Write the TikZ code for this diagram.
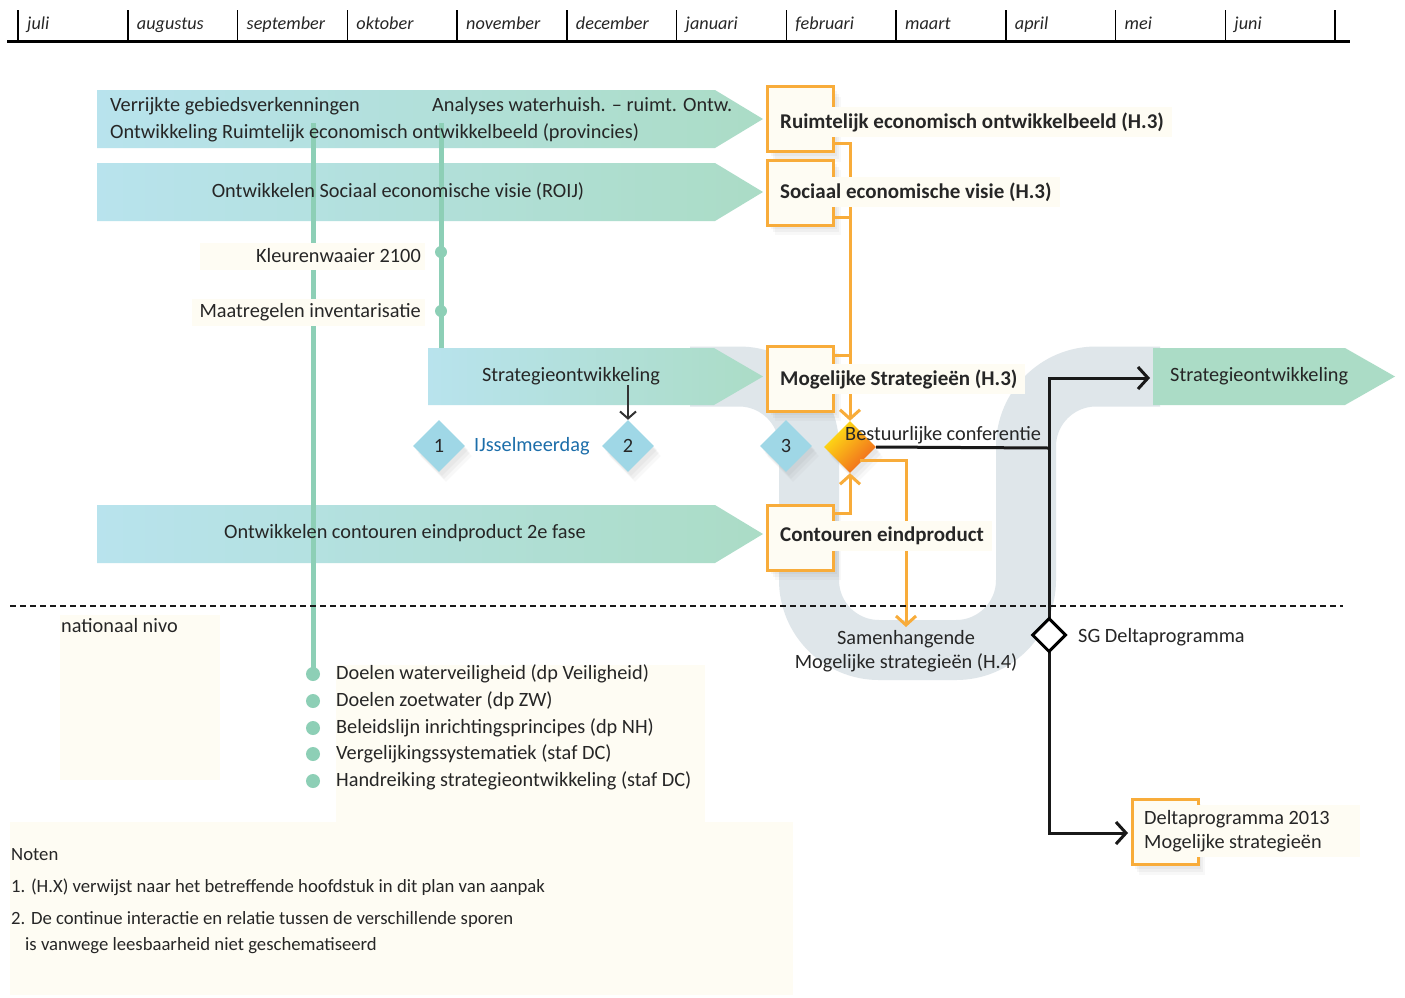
\documentclass[tikz,border=0pt]{standalone}
\usepackage{fontspec}
\setmainfont{Carlito}
\usetikzlibrary{arrows.meta,shadows,shapes.geometric}
\definecolor{cream}{RGB}{254,252,243}
\definecolor{ugrey}{RGB}{223,230,234}
\definecolor{ablue}{RGB}{184,227,237}
\definecolor{agreen}{RGB}{171,220,198}
\definecolor{lgreen}{RGB}{141,207,182}
\definecolor{dblue}{RGB}{159,215,230}
\definecolor{orng}{RGB}{248,172,58}
\definecolor{ijblue}{RGB}{28,110,170}
\definecolor{dyel}{RGB}{255,228,20}
\definecolor{dorg}{RGB}{240,100,30}
\newcommand\myfn{\fontsize{20.3}{24}\selectfont}
\newcommand\mysm{\fontsize{18.7}{22}\selectfont}
\begin{document}
\begin{tikzpicture}[x=1pt,y=-1pt,
  every node/.style={inner sep=0pt, text=black!85},
  month/.style={anchor=base west, font=\fontsize{18.2}{21}\selectfont\itshape},
  txt/.style={font=\myfn},
  smtxt/.style={font=\mysm, anchor=west},
  garrow/.style={left color=ablue, right color=agreen},
  gline/.style={lgreen, line width=5},
  dot/.style={circle, fill=lgreen, minimum size=12},
  bdot/.style={circle, fill=lgreen, minimum size=14},
  softshadow/.style={drop shadow={opacity=0.07, shadow xshift=3pt, shadow yshift=-4pt},
     drop shadow={opacity=0.07, shadow xshift=5pt, shadow yshift=-7pt},
     drop shadow={opacity=0.05, shadow xshift=7pt, shadow yshift=-10pt}},
  obox/.style={draw=orng, line width=3, fill=cream, minimum width=66, minimum height=65, softshadow},
  otxt/.style={anchor=west, fill=cream, inner xsep=8, minimum height=30, font=\fontsize{21}{24}\selectfont\bfseries},
  bdia/.style={diamond, fill=dblue, minimum size=52, font=\myfn, softshadow},
  oline/.style={orng, line width=3},
  otip/.style={-{Straight Barb[length=9pt,width=20pt]}},
  bline/.style={black!90, line width=3},
  btip/.style={-{Straight Barb[length=10pt,width=22pt]}}
]
\useasboundingbox (0,0) rectangle (1405,997);
\fill[white] (0,0) rectangle (1405,997);

% timeline
\draw[line width=3] (7,41) -- (1350,41);
\foreach \i in {0,...,12} { \draw[line width=1.5] ({18+109.75*\i},10) -- ({18+109.75*\i},41); }
\foreach \m [count=\k from 0] in {juli,augustus,september,oktober,november,december,januari,februari,maart,april,mei,juni}
  { \node[month] (m\k) at ({27+109.75*\k},29) {\m}; }

% grey U band
\draw[ugrey, line width=60, rounded corners=70] (690,376.5) -- (809,376.5) -- (809,650) -- (1026,650) -- (1026,376.5) -- (1160,376.5);

% green arrows
\shade[garrow] (97,90) -- (715,90) -- (763,119) -- (715,148) -- (97,148) -- cycle;
\shade[garrow] (97,163) -- (715,163) -- (763,192) -- (715,221) -- (97,221) -- cycle;
\shade[garrow] (428,348) -- (714,348) -- (763,376.5) -- (714,405) -- (428,405) -- cycle;
\shade[garrow] (97,505) -- (715,505) -- (763,534) -- (715,563) -- (97,563) -- cycle;
\fill[agreen] (1153,348) -- (1345,348) -- (1395,376.5) -- (1345,405) -- (1153,405) -- cycle;

% green lines
\draw[gline] (313,123) -- (313,674);
\draw[gline] (441,123) -- (441,348);
\node[dot] (k1) at (441,252) {};
\node[dot] (k2) at (441,311) {};

% cream backgrounds
\fill[cream] (60,615) rectangle (220,780);
\fill[cream] (336,665) rectangle (705,822);
\fill[cream] (10,822) rectangle (793,995);
\fill[cream] (200,243) rectangle (425,270);
\fill[cream] (192,299) rectangle (425,326);

% orange boxes
\node[obox] (reo) at (800.5,119) {};
\node[obox] (sev) at (800.5,192.5) {};
\node[obox] (ms) at (800.5,378.5) {};
\node[obox] (ce) at (800.5,537.5) {};
\node[obox] (dp) at (1165,832) {};

% orange diamond
\node[diamond, minimum size=52, top color=dyel, bottom color=dorg, shading angle=45, softshadow] (bc) at (850,447) {};

% orange connectors
\coordinate (o1) at (850,143);
\coordinate (o2) at (850,217);
\coordinate (o3) at (850,355);
\coordinate (o4) at (850,513);
\coordinate (o5) at (860,460);
\coordinate (o6) at (906,627);
\draw[oline, otip] (reo.east |- o1) -| (bc.north);
\draw[oline] (sev.east |- o2) -- (o2);
\draw[oline] (ms.east |- o3) -- (o3);
\draw[oline, otip] (ce.east |- o4) -| (bc.south);
\draw[oline, otip] (o5) -| (o6);

% box texts
\node[otxt] (reot) at (772,122) {Ruimtelijk economisch ontwikkelbeeld (H.3)};
\node[otxt] (sevt) at (772,192) {Sociaal economische visie (H.3)};
\node[otxt] (mst) at (772,379) {Mogelijke Strategieën (H.3)};
\node[otxt] (cet) at (772,536) {Contouren eindproduct};
\node[anchor=west, fill=cream, inner xsep=4, inner ysep=5, font=\myfn, align=flush left, text width=212] (dpt) at (1140,831)
  {Deltaprogramma 2013\\Mogelijke strategieën};

% arrow texts
\node[txt, anchor=west] (t1a) at (110,106) {Verrijkte gebiedsverkenningen};
\node[txt, anchor=west] (t1b) at (432,106) {Analyses waterhuish. \textendash\ ruimt. Ontw.};
\node[txt, anchor=west] (t1c) at (110,133) {Ontwikkeling Ruimtelijk economisch ontwikkelbeeld (provincies)};
\node[txt] (t2) at (398,191) {Ontwikkelen Sociaal economische visie (ROIJ)};
\node[txt] (t3) at (571,376) {Strategieontwikkeling};
\node[txt] (t4) at (405,533) {Ontwikkelen contouren eindproduct 2e fase};
\node[txt, anchor=west] (t5) at (1170,376) {Strategieontwikkeling};

\node[txt, anchor=east] (kw) at (421,256) {Kleurenwaaier 2100};
\node[txt, anchor=east] (mi) at (421,312) {Maatregelen inventarisatie};

% blue diamonds
\node[bdia] (d1) at (439,446) {1};
\node[bdia] (d2) at (628,446) {2};
\node[bdia] (d3) at (786,446) {3};
\node[txt, anchor=west, text=ijblue] (ij) at (474,446) {IJsselmeerdag};
\draw[black!80, line width=2, -{Straight Barb[length=7pt,width=16pt]}] (t3.south -| d2.north) -- (d2.north);

% Bestuurlijke conferentie
\node[txt, anchor=west] (bct) at (845,435) {Bestuurlijke conferentie};

% black connectors
\coordinate (j1) at (1049,448);
\coordinate (jt) at (1049,378);
\coordinate (jb) at (1049,833);
\coordinate (sar) at (1150,378);
\coordinate (dpin) at (1128,833);
\draw[bline] (bc.east) -- (j1);
\draw[bline, btip] (jb) -- (jt) -- (sar);
\draw[bline, btip] (jt) -- (jb) -- (dpin);
\node[diamond, draw=black, line width=3, fill=white, minimum size=34] (sgd) at (1049,635) {};
\node[txt, anchor=west] (sgt) at (1078,637) {SG Deltaprogramma};
\node[txt, align=center] (sam) at (906,651) {Samenhangende\\Mogelijke strategieën (H.4)};

% dashed separator
\draw[black!90, line width=1.5, dash pattern=on 6pt off 4pt] (10,606) -- (1343,606);

% national level
\node[txt, anchor=west] (nn) at (61,626) {nationaal nivo};
\foreach \y/\t [count=\k] in {674/Doelen waterveiligheid (dp Veiligheid),701/Doelen zoetwater (dp ZW),728/Beleidslijn inrichtingsprincipes (dp NH),754/Vergelijkingssystematiek (staf DC),781/Handreiking strategieontwikkeling (staf DC)}
  { \node[bdot] (b\k) at (313,\y) {};
    \node[txt, anchor=west] (bt\k) at (336,\y) {\t}; }

% notes
\node[smtxt] (n0) at (11,855) {Noten};
\node[smtxt] (n1) at (11,887) {1. (H.X) verwijst naar het betreffende hoofdstuk in dit plan van aanpak};
\node[smtxt] (n2) at (11,919) {2. De continue interactie en relatie tussen de verschillende sporen};
\node[smtxt] (n3) at (25,946) {is vanwege leesbaarheid niet geschematiseerd};
\end{tikzpicture}
\end{document}
